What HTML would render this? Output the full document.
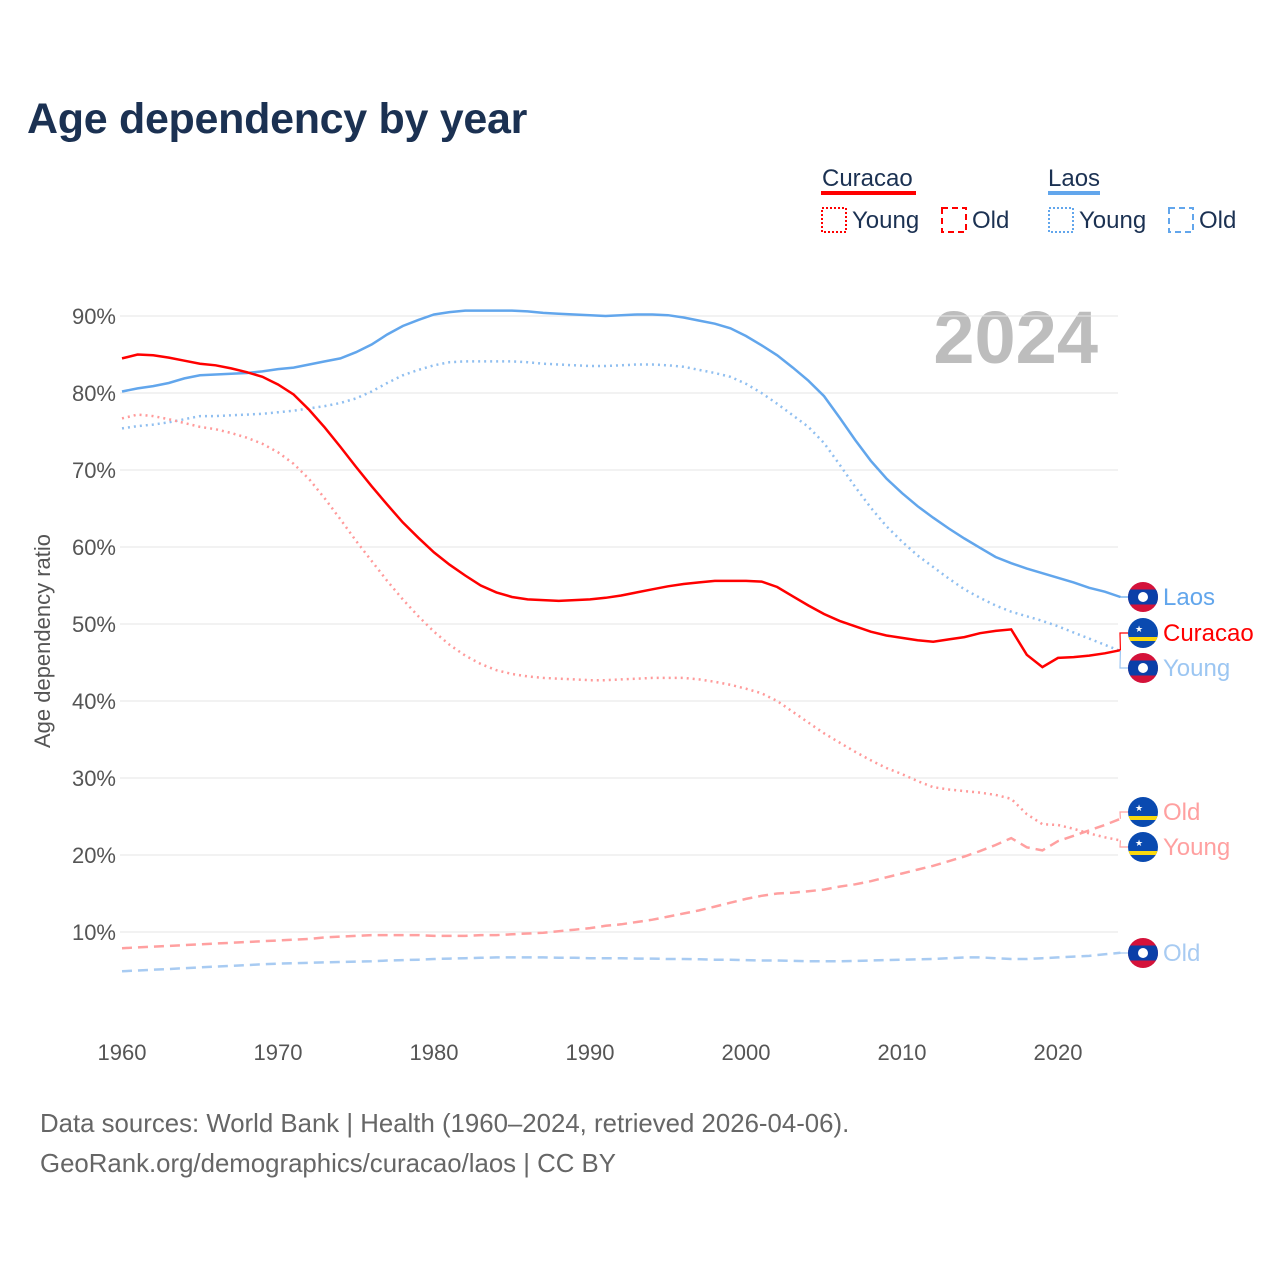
<!DOCTYPE html>
<html><head><meta charset="utf-8"><style>
body{margin:0;background:#fff;font-family:"Liberation Sans",sans-serif}
svg text{font-family:"Liberation Sans",sans-serif}
</style></head><body>
<svg id="chart" width="1280" height="1280" viewBox="0 0 1280 1280" xmlns="http://www.w3.org/2000/svg">
<rect width="1280" height="1280" fill="#fff"/>
<text x="27" y="133" font-size="43" font-weight="bold" fill="#1b3152" letter-spacing="-0.3">Age dependency by year</text>
<g>
<text x="822" y="186" font-size="24" fill="#1b3152">Curacao</text>
<rect x="821" y="191" width="95" height="4" fill="#ff0000"/>
<rect x="822" y="208" width="24" height="24" fill="none" stroke="#ff0000" stroke-width="2" stroke-dasharray="2,2"/>
<text x="852" y="228" font-size="24" fill="#1b3152">Young</text>
<rect x="942" y="208" width="24" height="24" fill="none" stroke="#ff0000" stroke-width="2" stroke-dasharray="6,4"/>
<text x="972" y="228" font-size="24" fill="#1b3152">Old</text>
<text x="1048" y="186" font-size="24" fill="#1b3152">Laos</text>
<rect x="1048" y="191" width="52" height="4" fill="#62a6ec"/>
<rect x="1049" y="208" width="24" height="24" fill="none" stroke="#62a6ec" stroke-width="2" stroke-dasharray="2,2"/>
<text x="1079" y="228" font-size="24" fill="#1b3152">Young</text>
<rect x="1169" y="208" width="24" height="24" fill="none" stroke="#62a6ec" stroke-width="2" stroke-dasharray="6,4"/>
<text x="1199" y="228" font-size="24" fill="#1b3152">Old</text>
</g>
<text x="1098" y="363" font-size="74" font-weight="bold" fill="#bdbdbd" text-anchor="end">2024</text>
<text transform="translate(50,641) rotate(-90)" font-size="22" fill="#555" text-anchor="middle">Age dependency ratio</text>
<g id="grid"></g><g id="series"></g><g id="labels"></g>
<text x="40" y="1132" font-size="25.8" fill="#666">Data sources: World Bank | Health (1960–2024, retrieved 2026-04-06).</text>
<text x="40" y="1172" font-size="25.8" fill="#666">GeoRank.org/demographics/curacao/laos | CC BY</text>
</svg>
<script>
const startYear = 1960;
const yTicks = [10,20,30,40,50,60,70,80,90];
const xTicks = [1960,1970,1980,1990,2000,2010,2020];
const curacaoTotal = [84.5,85,84.9,84.6,84.2,83.8,83.6,83.2,82.7,82.1,81.1,79.8,77.8,75.5,73,70.4,67.9,65.5,63.2,61.2,59.3,57.7,56.3,55,54.1,53.5,53.2,53.1,53,53.1,53.2,53.4,53.7,54.1,54.5,54.9,55.2,55.4,55.6,55.6,55.6,55.5,54.8,53.6,52.4,51.3,50.4,49.7,49,48.5,48.2,47.9,47.7,48,48.3,48.8,49.1,49.3,46,44.4,45.6,45.7,45.9,46.2,46.6];
const curacaoYoung = [76.7,77.2,77,76.6,76.1,75.6,75.3,74.8,74.2,73.4,72.3,70.8,68.8,66.3,63.6,60.8,58.2,55.6,53.2,51,49,47.3,45.9,44.8,44,43.5,43.2,43,42.9,42.8,42.7,42.7,42.8,42.9,43,43,43,42.8,42.5,42.1,41.6,41,40,38.6,37.2,35.8,34.6,33.4,32.3,31.3,30.5,29.6,28.8,28.5,28.3,28.1,27.8,27.3,25.3,24,23.9,23.4,22.8,22.3,21.9];
const curacaoOld = [7.9,8.0,8.1,8.2,8.3,8.4,8.5,8.6,8.7,8.8,8.9,9.0,9.1,9.3,9.4,9.5,9.6,9.6,9.6,9.6,9.5,9.5,9.5,9.6,9.6,9.7,9.8,9.9,10.1,10.3,10.5,10.8,11.0,11.3,11.6,12.0,12.4,12.8,13.3,13.8,14.3,14.7,15.0,15.1,15.3,15.5,15.9,16.2,16.6,17.1,17.6,18.1,18.6,19.2,19.8,20.5,21.3,22.2,21.0,20.6,21.8,22.5,23.2,23.9,24.7];
const laosTotal = [80.2,80.6,80.9,81.3,81.9,82.3,82.4,82.5,82.6,82.8,83.1,83.3,83.7,84.1,84.5,85.3,86.3,87.6,88.7,89.5,90.2,90.5,90.7,90.7,90.7,90.7,90.6,90.4,90.3,90.2,90.1,90,90.1,90.2,90.2,90.1,89.8,89.4,89,88.4,87.4,86.2,84.9,83.3,81.6,79.6,76.8,73.9,71.2,68.9,67,65.3,63.8,62.4,61.1,59.9,58.7,57.9,57.2,56.6,56,55.4,54.7,54.2,53.5];
const laosYoung = [75.4,75.7,75.9,76.2,76.6,77,77,77.1,77.2,77.3,77.5,77.7,78,78.3,78.7,79.3,80.2,81.3,82.3,83,83.6,84,84.1,84.1,84.1,84.1,84,83.8,83.7,83.6,83.5,83.5,83.6,83.7,83.7,83.6,83.4,83,82.6,82.1,81.2,80,78.6,77.1,75.6,73.5,70.7,67.8,65.1,62.7,60.7,58.9,57.4,55.9,54.5,53.4,52.4,51.6,51,50.4,49.7,48.9,48.1,47.3,46.5];
const laosOld = [4.9,5.0,5.1,5.2,5.3,5.4,5.5,5.6,5.7,5.8,5.9,5.95,6.0,6.05,6.1,6.15,6.2,6.3,6.35,6.4,6.5,6.55,6.6,6.65,6.7,6.7,6.7,6.7,6.65,6.65,6.6,6.6,6.6,6.55,6.55,6.5,6.5,6.45,6.4,6.4,6.35,6.3,6.3,6.25,6.2,6.2,6.2,6.25,6.3,6.35,6.4,6.45,6.5,6.6,6.7,6.7,6.6,6.5,6.5,6.6,6.7,6.8,6.9,7.1,7.3];

const NS='http://www.w3.org/2000/svg';
const X = yr => 122 + (yr-1960)*15.6;
const Y = v => 1009 - v*7.7;
function mk(tag, attrs, parent){const e=document.createElementNS(NS,tag);for(const k in attrs)e.setAttribute(k,attrs[k]);parent.appendChild(e);return e;}
const grid=document.getElementById('grid');
yTicks.forEach(t=>{
  const l=mk('line',{x1:120,x2:1118,y1:Y(t),y2:Y(t),stroke:'#e6e6e6','stroke-width':1},grid);
  
  
  const tx=mk('text',{x:116,y:Y(t)+8,'font-size':22,fill:'#555','text-anchor':'end'},grid);
  tx.textContent=t+'%';
  
  
});
xTicks.forEach(t=>{
  const tx=mk('text',{x:X(t),y:1060,'font-size':22,fill:'#555','text-anchor':'middle'},grid);
  tx.textContent=t;
  
  
});
const ser=document.getElementById('series');
function line(data,color,dash,name){
  const d=data.map((v,i)=>(i?'L':'M')+X(startYear+i).toFixed(1)+' '+Y(v).toFixed(1)).join(' ');
  const p=mk('path',{d:d,fill:'none',stroke:color,'stroke-width':2.5,'stroke-dasharray':dash},ser);
  
  
}
line(laosOld,'#a8cbf2','10,6','line-laos-old');
line(curacaoOld,'#ffa0a0','10,6','line-curacao-old');
line(laosYoung,'#90bff0','2,4','line-laos-young');
line(curacaoYoung,'#ff9a9a','2,4','line-curacao-young');
line(laosTotal,'#62a6ec','','line-laos-total');
line(curacaoTotal,'#ff0000','','line-curacao-total');

const lab=document.getElementById('labels');
const endX = X(2024);
function flag(cy,type){
  const g=mk('g',{},lab);
  
  
  const cid='c'+Math.round(cy);
  const cp=mk('clipPath',{id:cid},g);mk('circle',{cx:1143,cy:cy,r:15},cp);
  const gg=mk('g',{'clip-path':'url(#'+cid+')'},g);
  if(type==='laos'){
    mk('rect',{x:1128,y:cy-15,width:30,height:30,fill:'#d4123a'},gg);
    mk('rect',{x:1128,y:cy-7.5,width:30,height:15,fill:'#0b3fa8'},gg);
    mk('circle',{cx:1143,cy:cy,r:5,fill:'#fff'},gg);
  } else {
    mk('rect',{x:1128,y:cy-15,width:30,height:30,fill:'#0a4ab0'},gg);
    mk('rect',{x:1128,y:cy+4,width:30,height:4,fill:'#f9d90f'},gg);
    const s=mk('text',{x:1139,y:cy-1,'font-size':9,fill:'#fff','text-anchor':'middle'},gg);s.textContent='★';
  }
}
function endLabel(v,ly,text,color,lineColor,type,name){
  const p=mk('path',{d:`M${endX} ${Y(v)} L1120 ${ly} L1128 ${ly}`,fill:'none',stroke:lineColor,'stroke-width':1.2},lab);
  
  
  flag(ly,type);
  const t=mk('text',{x:1163,y:ly+8,'font-size':24,fill:color},lab);
  t.textContent=text;
  
  
}
endLabel(laosTotal[64],597,'Laos','#62a6ec','#62a6ec','laos','end-laos-total');
endLabel(curacaoTotal[64],633,'Curacao','#ff0000','#ff0000','curacao','end-curacao-total');
endLabel(laosYoung[64],668,'Young','#9cc6f2','#9cc6f2','laos','end-laos-young');
endLabel(curacaoOld[64],812,'Old','#ffa0a0','#ffa0a0','curacao','end-curacao-old');
endLabel(curacaoYoung[64],847,'Young','#ffa0a0','#ffa0a0','curacao','end-curacao-young');
endLabel(laosOld[64],953,'Old','#a8cbf2','#a8cbf2','laos','end-laos-old');
</script>
</body></html>
